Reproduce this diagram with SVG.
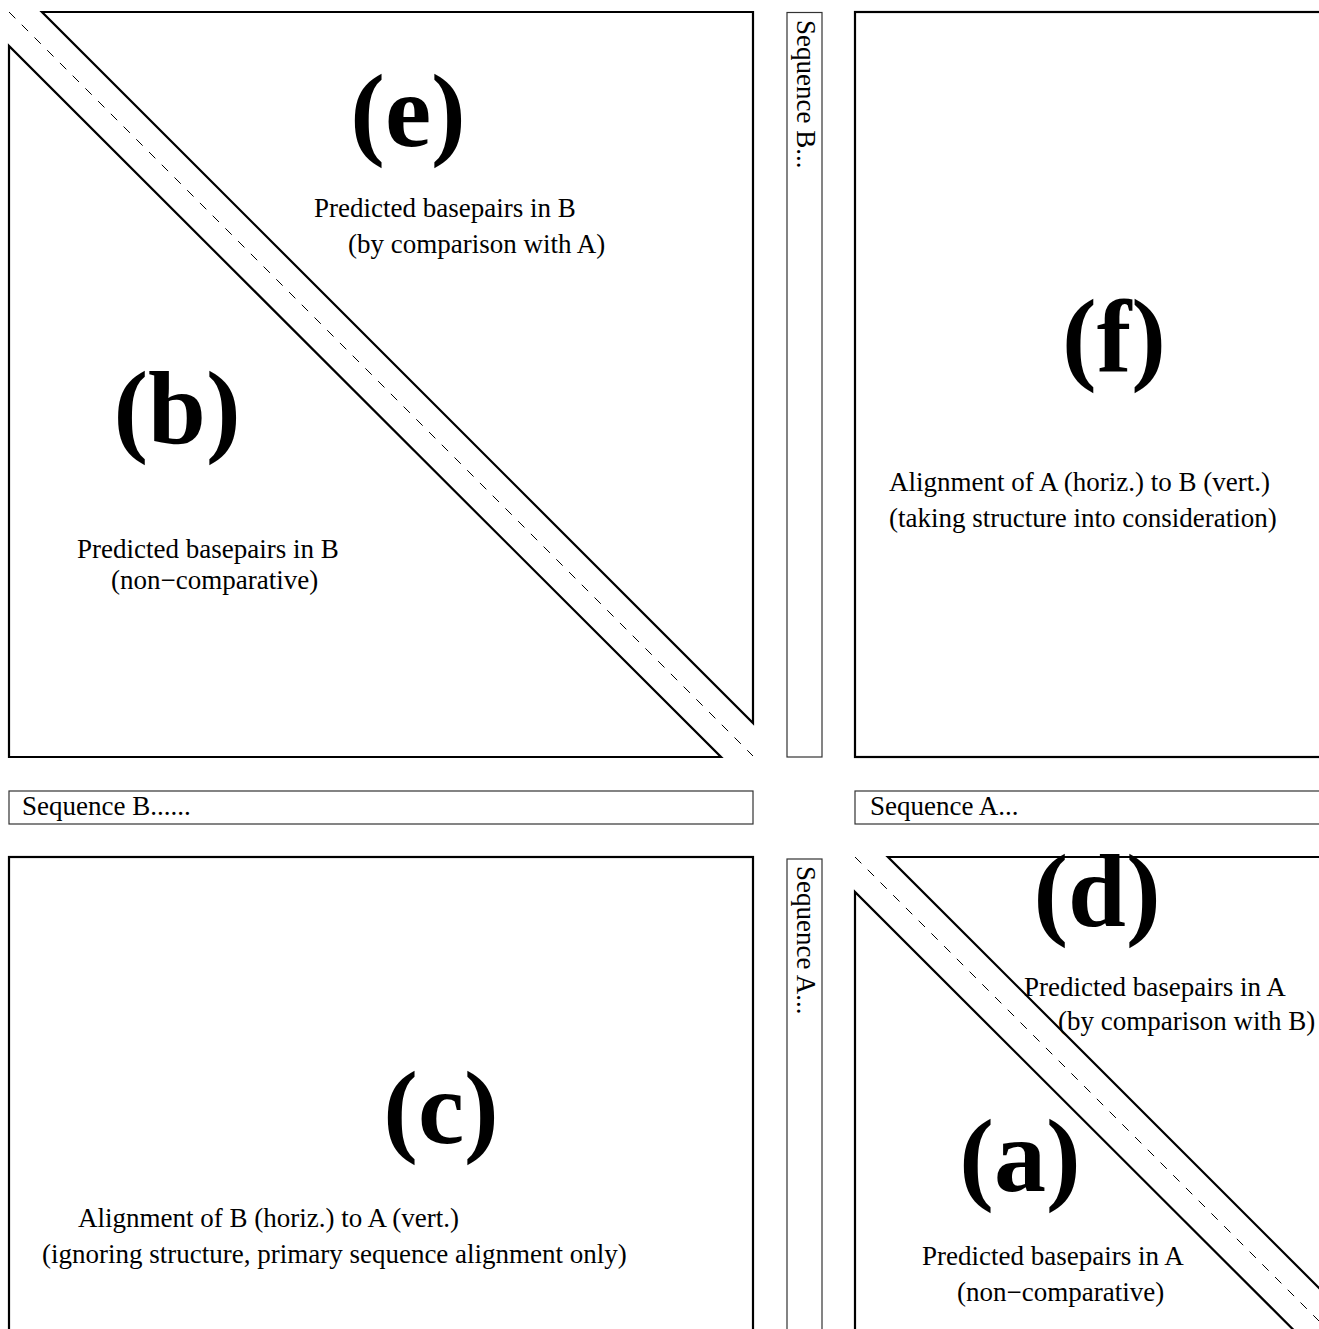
<svg xmlns="http://www.w3.org/2000/svg" width="1319" height="1329" viewBox="0 0 1319 1329">
<style>
.panel{fill:none;stroke:#000;stroke-width:2.2;stroke-linejoin:miter}
.bar{fill:#fff;stroke:#333;stroke-width:1.2}
.dash{fill:none;stroke:#000;stroke-width:1;stroke-dasharray:9,9}
.big{font-family:"Liberation Serif","Times New Roman",serif;font-weight:bold;font-size:104px;text-anchor:middle;fill:#000}
.t{font-family:"Liberation Serif","Times New Roman",serif;font-size:27px;fill:#000}
</style>
<rect width="1319" height="1329" fill="#fff"/>
<g id="panel-eb">
<polygon class="panel" points="42,12 753,12 753,723"/>
<polygon class="panel" points="9,46 9,757 721,757"/>
<line class="dash" x1="9" y1="12" x2="753" y2="756"/>
<text class="big" x="408" y="146">(e)</text>
<text class="t" x="314" y="217">Predicted basepairs in B</text>
<text class="t" x="348" y="253">(by comparison with A)</text>
<text class="big" x="177" y="443">(b)</text>
<text class="t" x="77" y="558">Predicted basepairs in B</text>
<text class="t" x="111" y="589">(non−comparative)</text>
</g>
<g id="panel-f">
<rect class="panel" x="855" y="12" width="744" height="745"/>
<text class="big" x="1114" y="371">(f)</text>
<text class="t" x="889" y="491">Alignment of A (horiz.) to B (vert.)</text>
<text class="t" x="889" y="527">(taking structure into consideration)</text>
</g>
<g id="seqB-vert">
<rect class="bar" x="787" y="12.5" width="35" height="744.5"/>
<text class="t" transform="translate(797,20) rotate(90)">Sequence B...</text>
</g>
<g id="seqB-horiz">
<rect class="bar" x="9" y="791" width="744" height="33"/>
<text class="t" x="22" y="815">Sequence B......</text>
</g>
<g id="seqA-horiz">
<rect class="bar" x="855" y="791" width="744" height="33"/>
<text class="t" x="870" y="815">Sequence A...</text>
</g>
<g id="panel-c">
<rect class="panel" x="9" y="857" width="744" height="745"/>
<text class="big" x="441" y="1143">(c)</text>
<text class="t" x="78" y="1227">Alignment of B (horiz.) to A (vert.)</text>
<text class="t" x="42" y="1263">(ignoring structure, primary sequence alignment only)</text>
</g>
<g id="seqA-vert">
<rect class="bar" x="787" y="859" width="35" height="744"/>
<text class="t" transform="translate(797,866) rotate(90)">Sequence A...</text>
</g>
<g id="panel-da">
<polygon class="panel" points="888,857 1599,857 1599,1568"/>
<polygon class="panel" points="855,892 855,1602 1566,1602"/>
<line class="dash" x1="855" y1="857" x2="1599" y2="1601"/>
<text class="big" x="1097" y="926">(d)</text>
<text class="t" x="1024" y="996">Predicted basepairs in A</text>
<text class="t" x="1058" y="1030">(by comparison with B)</text>
<text class="big" x="1020" y="1191">(a)</text>
<text class="t" x="922" y="1265">Predicted basepairs in A</text>
<text class="t" x="957" y="1301">(non−comparative)</text>
</g>
<g id="connectors"/>
</svg>
